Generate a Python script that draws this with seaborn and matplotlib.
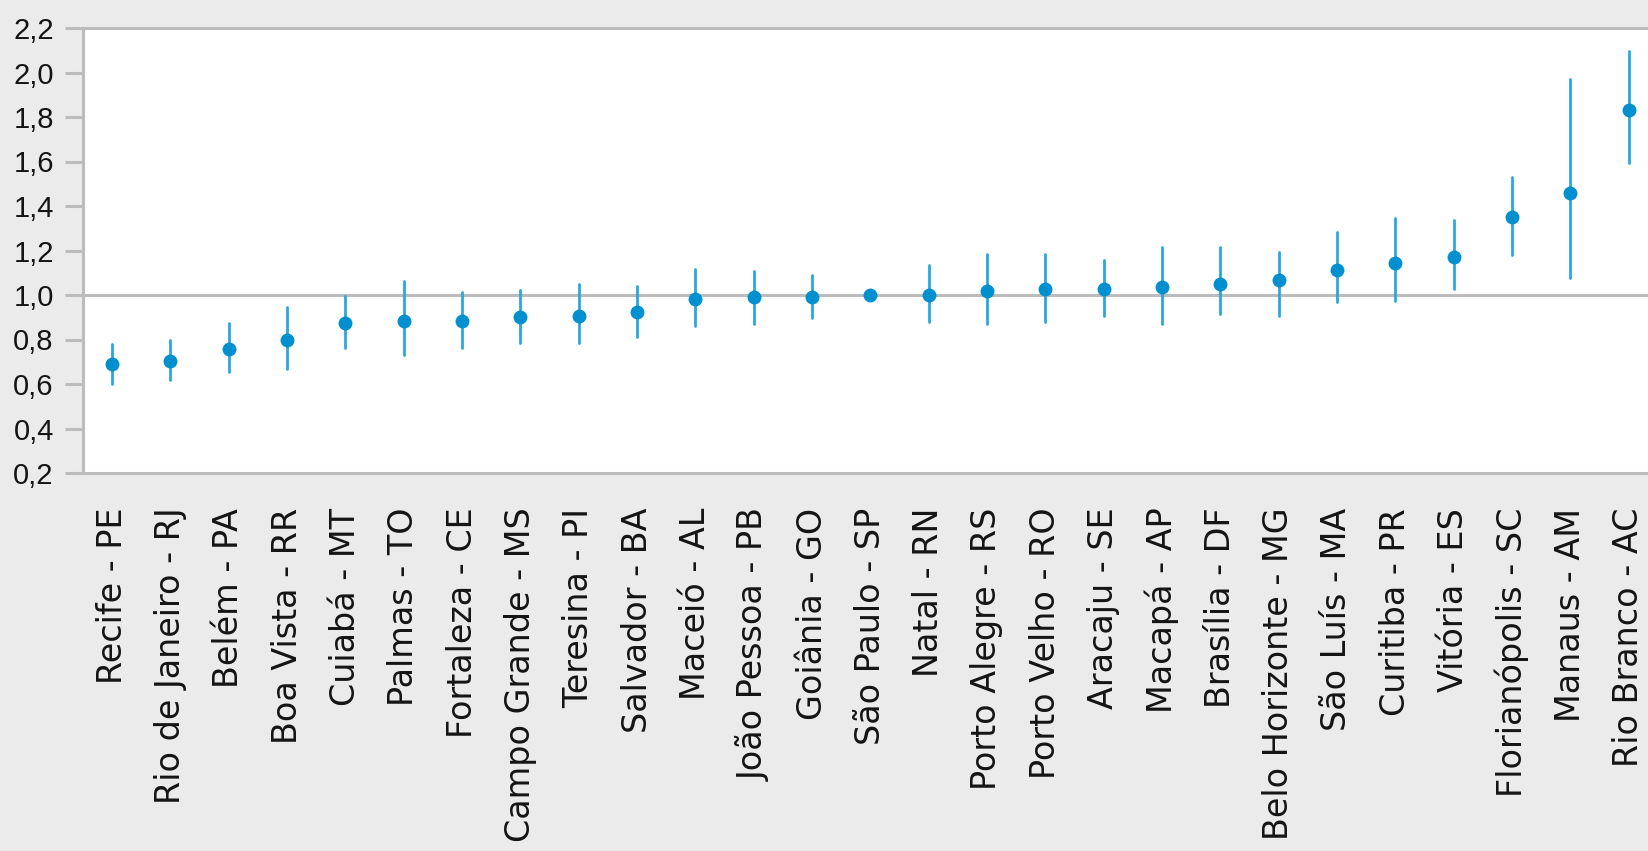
import numpy as np
import pandas as pd
import matplotlib
matplotlib.use("Agg")
import matplotlib.pyplot as plt
import seaborn as sns

# Capitals ordered by estimate
cidades = [
    "Recife - PE", "Rio de Janeiro - RJ", "Belém - PA", "Boa Vista - RR",
    "Cuiabá - MT", "Palmas - TO", "Fortaleza - CE", "Campo Grande - MS",
    "Teresina - PI", "Salvador - BA", "Maceió - AL", "João Pessoa - PB",
    "Goiânia - GO", "São Paulo - SP", "Natal - RN", "Porto Alegre - RS",
    "Porto Velho - RO", "Aracaju - SE", "Macapá - AP", "Brasília - DF",
    "Belo Horizonte - MG", "São Luís - MA", "Curitiba - PR", "Vitória - ES",
    "Florianópolis - SC", "Manaus - AM", "Rio Branco - AC",
]
estimativa = [
    0.69, 0.705, 0.756, 0.798, 0.873, 0.883, 0.882, 0.90, 0.907, 0.924,
    0.983, 0.991, 0.991, 1.00, 1.00, 1.018, 1.027, 1.027, 1.034, 1.051,
    1.069, 1.112, 1.145, 1.171, 1.349, 1.458, 1.831,
]
limite_inf = [
    0.60, 0.618, 0.652, 0.669, 0.762, 0.729, 0.762, 0.786, 0.786, 0.813,
    0.862, 0.871, 0.898, 1.00, 0.88, 0.871, 0.88, 0.907, 0.871, 0.916,
    0.907, 0.967, 0.974, 1.026, 1.178, 1.078, 1.593,
]
limite_sup = [
    0.778, 0.80, 0.873, 0.947, 0.997, 1.064, 1.015, 1.022, 1.049, 1.039,
    1.117, 1.108, 1.091, 1.00, 1.133, 1.184, 1.184, 1.159, 1.217, 1.217,
    1.192, 1.285, 1.345, 1.337, 1.532, 1.972, 2.098,
]
y_ticks = [0.2, 0.4, 0.6, 0.8, 1.0, 1.2, 1.4, 1.6, 1.8, 2.0, 2.2]

# Long form: each capital carries its lower limit, estimate and upper limit;
# the median recovers the estimate and the full percentile interval the limits.
df = pd.DataFrame({
    "cidade": np.repeat(cidades, 3),
    "valor": np.column_stack([limite_inf, estimativa, limite_sup]).ravel(),
})

sns.set_theme(style="white")
plt.rcParams["font.family"] = ["Liberation Sans", "DejaVu Sans"]

bg = "#ebebeb"
grey = "#bcbcbc"
dot_color = "#0090cf"
bar_color = "#2aa7df"

fig = plt.figure(figsize=(16.48, 8.51), dpi=100, facecolor=bg)
ax = fig.add_axes([83 / 1648, 1 - 473 / 851, (1648 - 83) / 1648, (473 - 28) / 851])
ax.set_facecolor("white")

ax.axhline(1.0, color=grey, lw=2.2, zorder=1)

sns.pointplot(
    data=df, x="cidade", y="valor", order=cidades,
    estimator="median", errorbar=("pi", 100),
    linestyle="none", marker="o", markersize=10,
    color=dot_color,
    err_kws={"color": bar_color, "linewidth": 2.0},
    ax=ax,
)
for ln in ax.lines:
    if ln.get_marker() not in (None, "None", "", " "):
        ln.set_zorder(5)
        ln.set_markeredgewidth(0)
    else:
        ln.set_zorder(4)

ax.set_xlim(-0.5, (1648 - 111.4) / 58.35)
ax.set_ylim(0.2, 2.2)
ax.set_yticks(y_ticks)
ax.set_yticklabels([f"{v:.1f}".replace(".", ",") for v in y_ticks])
ax.set_xlabel("")
ax.set_ylabel("")

for side in ("left", "top", "bottom"):
    ax.spines[side].set_visible(True)
    ax.spines[side].set_color(grey)
    ax.spines[side].set_linewidth(2.2)
ax.spines["right"].set_visible(False)

ax.tick_params(axis="y", direction="out", length=13, width=2.2, color=grey,
               pad=8, labelsize=21, labelcolor="#141414", left=True)
ax.tick_params(axis="x", length=0, pad=25, labelsize=24, labelcolor="#141414")
for lab in ax.get_xticklabels():
    lab.set_rotation(90)
    lab.set_family(["DejaVu Sans"])
    lab.set_ha("center")
    lab.set_va("top")

fig.savefig("out.png", dpi=100, facecolor=bg)
